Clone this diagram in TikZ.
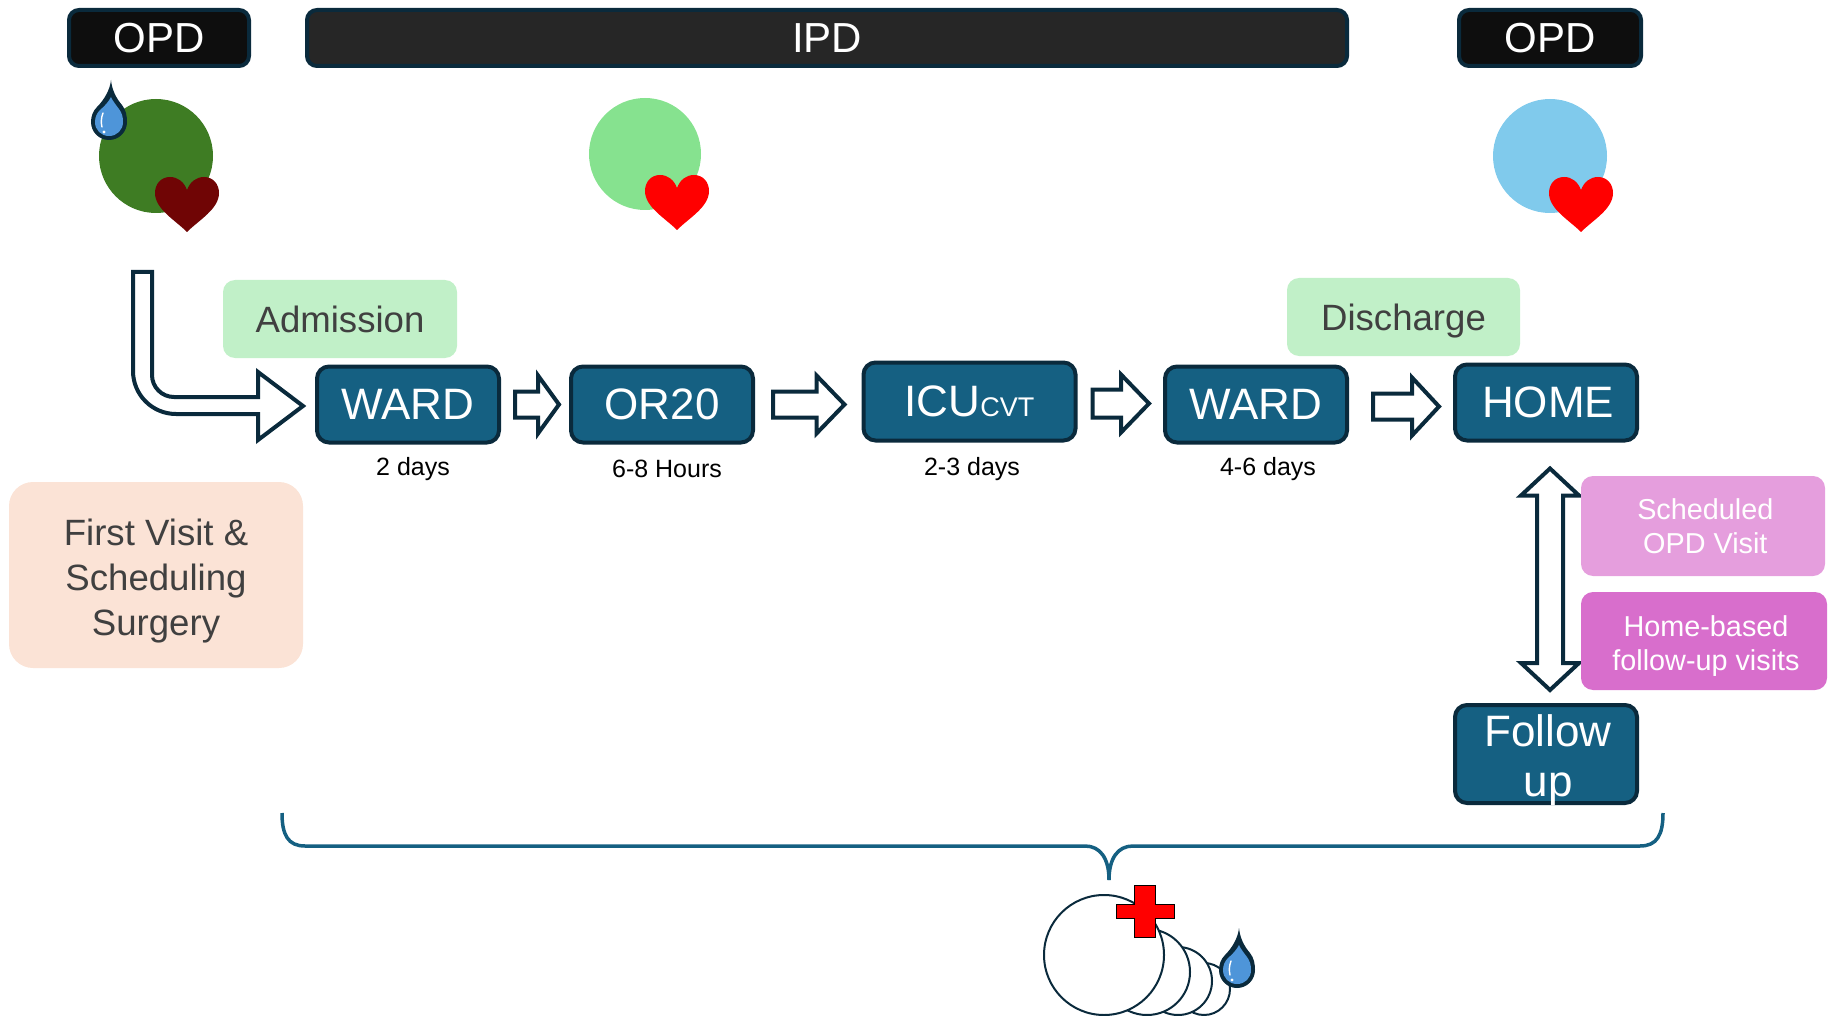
\documentclass[tikz,border=0pt]{standalone}
\usepackage{fontspec}
\setmainfont{Liberation Sans}
\usetikzlibrary{calc}
\definecolor{bord}{HTML}{0A2A3C}
\definecolor{teal}{HTML}{156082}
\definecolor{txtg}{HTML}{404040}
\definecolor{dropblue}{HTML}{4E95D9}
\tikzset{
 blockbox/.style={draw=bord,line width=2pt,fill=teal,rounded corners=6pt,text=white,font=\fontsize{22}{25}\selectfont,align=center,inner sep=0pt},
 topbox/.style={draw=bord,line width=2pt,rounded corners=5pt,text=white,font=\fontsize{21}{25}\selectfont,inner sep=0pt},
 softbox/.style={rounded corners=6pt,align=center,inner sep=0pt},
 daylab/.style={font=\fontsize{12.5}{15}\selectfont,text=black},
 blockarrow/.style={draw=bord,line width=2pt,fill=white,miter limit=10},
 heart/.pic={\fill[pic actions] (0,13) .. controls (-3,5) and (-9,0) .. (-17,0) .. controls (-26,0) and (-32,7) .. (-32,16) .. controls (-32,32) and (-12,43) .. (0,55) .. controls (12,43) and (32,32) .. (32,16) .. controls (32,7) and (26,0) .. (17,0) .. controls (9,0) and (3,5) .. (0,13) -- cycle;},
 dropicon/.pic={
  \fill[bord] (0,0) .. controls (1,10) and (5,18) .. (11,25) .. controls (15,30) and (16,36) .. (16,42) .. controls (16,52) and (8,60) .. (-2,60) .. controls (-12,60) and (-20,52) .. (-20,42) .. controls (-20,36) and (-18,31) .. (-14,27) .. controls (-7,20) and (-1,10) .. (0,0) -- cycle;
  \fill[dropblue] (0,17) .. controls (1,20) and (5,25) .. (8,29) .. controls (11,33) and (12,37) .. (12,42) .. controls (12,50) and (6,56) .. (-2,56) .. controls (-10,56) and (-16,50) .. (-16,42) .. controls (-16,37) and (-14,33) .. (-11,30) .. controls (-6,26) and (-2,21) .. (0,17) -- cycle;
  \draw[white,line width=0.7pt,line cap=round] (-8,33) .. controls (-10,38) and (-10,43) .. (-9,47);
  \fill[white] (-7,52) circle (1.7);
 }
}
% from node, to node, gap at tail, gap at tip, vertical offset, half shaft, head length, half head
\newcommand\blockarr[8]{%
 \coordinate (tailpt) at ($(#1.east)+(#3,#5)$);
 \coordinate (tippt) at ($(tailpt -| #2.west)+(-#4,0)$);
 \draw[blockarrow] ($(tailpt)+(0,-#6)$) -- ($(tippt)+(-#7,-#6)$) -- ($(tippt)+(-#7,-#8)$) -- (tippt) -- ($(tippt)+(-#7,#8)$) -- ($(tippt)+(-#7,#6)$) -- ($(tailpt)+(0,#6)$) -- cycle;}
\begin{document}
\begin{tikzpicture}[x=0.5pt,y=-0.5pt]
\useasboundingbox (0,0) rectangle (1831,1016);
% top bars
\node[topbox,fill={rgb,255:red,14;green,14;blue,14},minimum width=90pt,minimum height=28pt] (opdl) at (159,38) {OPD};
\node[topbox,fill={rgb,255:red,38;green,38;blue,38},minimum width=520pt,minimum height=28pt] (ipd) at (827,38) {IPD};
\node[topbox,fill={rgb,255:red,14;green,14;blue,14},minimum width=91pt,minimum height=28pt] (opdr) at (1550,38) {OPD};
% circles
\fill[fill={rgb,255:red,62;green,124;blue,35}] (156,156) circle (57);
\fill[fill={rgb,255:red,134;green,226;blue,143}] (645,154) circle (56);
\fill[fill={rgb,255:red,128;green,202;blue,236}] (1550,156) circle (57);
\pic[fill={rgb,255:red,112;green,5;blue,5}] at (187,177) {heart};
\pic[fill=red] at (677,175) {heart};
\pic[fill=red] at (1581,177) {heart};
\pic at (111,80) {dropicon};
% bent arrow
\draw[blockarrow] (133,272) -- (152,272) -- (152,375) arc[start angle=180,end angle=90,radius=22] -- (258,397) -- (258,372) -- (303,406) -- (258,440) -- (258,414) -- (176,414) arc[start angle=90,end angle=180,radius=43] -- cycle;
% blocks
\node[blockbox,minimum width=91pt,minimum height=38pt] (w1) at (408,404.5) {WARD};
\node[blockbox,minimum width=91pt,minimum height=38pt] (or) at (662,404.5) {OR20};
\node[blockbox,minimum width=106pt,minimum height=39pt] (icu) at (969.5,401.5) {ICU{\fontsize{13.5}{16}\selectfont CVT}};
\node[blockbox,minimum width=91pt,minimum height=38pt] (w2) at (1256,404.5) {WARD};
\node[blockbox,minimum width=91pt,minimum height=38pt] (home) at (1546,402.5) {\kern 2pt HOME};
\node[blockbox,inner ysep=-4pt,minimum width=91pt,minimum height=49pt] (fu) at (1546,754) {\rule{0pt}{22pt}\kern 2pt Follow\\\kern 2pt up};
% block arrows
\blockarr{w1}{or}{14}{10}{0}{13}{21}{29}
\blockarr{or}{icu}{18}{17}{0}{13}{28}{29}
\blockarr{icu}{w2}{15}{14}{2}{14}{28}{29}
\blockarr{w2}{home}{24}{14}{2}{13}{27}{29}
% double arrow
\coordinate (dtop) at ($(home.south)+(4,26)$);
\coordinate (dbot) at ($(fu.north)+(4,-13)$);
\draw[blockarrow] (dtop) -- ($(dtop)+(29,27)$) -- ($(dtop)+(13,27)$) -- ($(dbot)+(13,-27)$) -- ($(dbot)+(29,-27)$) -- (dbot) -- ($(dbot)+(-29,-27)$) -- ($(dbot)+(-13,-27)$) -- ($(dtop)+(-13,27)$) -- ($(dtop)+(-29,27)$) -- cycle;
% soft labels
\node[softbox,fill={rgb,255:red,193;green,240;blue,200},text=txtg,minimum width=117pt,minimum height=39pt,font=\fontsize{18.3}{22}\selectfont] (adm) at (340,319) {Admission};
\node[softbox,fill={rgb,255:red,193;green,240;blue,200},text=txtg,minimum width=116.5pt,minimum height=39pt,text depth=0pt,font=\fontsize{18.3}{22}\selectfont] (dis) at (1403.5,317) {Discharge};
\node[softbox,fill={rgb,255:red,251;green,227;blue,214},text=txtg,minimum width=147pt,minimum height=93pt,rounded corners=12pt,font=\fontsize{18.3}{22.5}\selectfont] (first) at (156,575) {\rule{0pt}{19pt}First Visit \&\\Scheduling\\Surgery};
\node[softbox,fill={rgb,255:red,229;green,158;blue,221},text=white,minimum width=122pt,minimum height=50pt,font=\fontsize{14.4}{17}\selectfont] (sched) at (1703,526) {\kern 2.3pt Scheduled\\\kern 2.3pt OPD Visit};
\node[softbox,fill={rgb,255:red,216;green,110;blue,204},text=white,minimum width=123pt,minimum height=49pt,font=\fontsize{14.4}{17}\selectfont] (hb) at (1704,641) {\rule{0pt}{15.6pt}\kern 2pt Home-based\\\kern 2pt follow-up visits};
% day labels
\node[daylab] (d1) at (413,469.5) {2 days};
\node[daylab] (d2) at (667,469) {6-8 Hours};
\node[daylab] (d3) at (972,469.5) {2-3 days};
\node[daylab] (d4) at (1268,469.5) {4-6 days};
% brace
\draw[teal,line width=1.75pt] (282,813) .. controls (282,835) and (288,846) .. (305,846) -- (1085,846) .. controls (1100,846) and (1109,858) .. (1109,880);
\draw[teal,line width=1.75pt] (1663,813) .. controls (1663,835) and (1657,846) .. (1640,846) -- (1133,846) .. controls (1118,846) and (1109,858) .. (1109,880);
% circles bottom
\begin{scope}
\clip (0,0) rectangle (1831,1016);
\draw[bord,line width=1pt,fill=white] (1204,989) circle (26);
\draw[bord,line width=1pt,fill=white] (1178,981) circle (34);
\draw[bord,line width=1pt,fill=white] (1147,972) circle (43);
\draw[bord,line width=1pt,fill=white] (1104,955) circle (60);
\end{scope}
\draw[black,line width=0.5pt,fill=red] (1134,885) -- (1155,885) -- (1155,904) -- (1174,904) -- (1174,918) -- (1155,918) -- (1155,937) -- (1134,937) -- (1134,918) -- (1116,918) -- (1116,904) -- (1134,904) -- cycle;
\pic at (1239,928) {dropicon};
\end{tikzpicture}
\end{document}
